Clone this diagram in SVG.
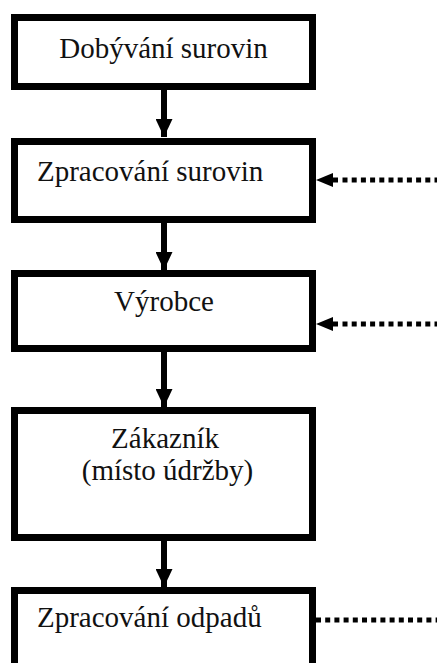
<svg xmlns="http://www.w3.org/2000/svg" width="437" height="663" viewBox="0 0 437 663">
<defs>
<style>
.box{fill:#fff;stroke:#000;stroke-width:7}
.t{font-family:"Liberation Serif","Times New Roman",serif;font-size:29px;fill:#111}
.c{text-anchor:middle}
.ln{stroke:#000;stroke-width:6;fill:none}
.dot{stroke:#000;stroke-width:5;stroke-dasharray:5 4.2;fill:none}
</style>
<marker id="ah" viewBox="0 0 18 17" refX="18" refY="8.5" markerWidth="18" markerHeight="17" markerUnits="userSpaceOnUse" orient="auto">
<path d="M0,0 L18,8.5 L0,17 Z" fill="#000"/>
</marker>
</defs>
<rect width="437" height="663" fill="#fff"/>
<g id="connectors">
<line class="ln" x1="164" y1="90" x2="164" y2="137" marker-end="url(#ah)"/>
<line class="ln" x1="164" y1="223" x2="164" y2="270" marker-end="url(#ah)"/>
<line class="ln" x1="164" y1="352" x2="164" y2="407" marker-end="url(#ah)"/>
<line class="ln" x1="164" y1="541" x2="164" y2="587" marker-end="url(#ah)"/>
<path d="M316,180 L333,173 L333,187 Z" fill="#000"/>
<line x1="332" y1="180" x2="338" y2="180" stroke="#000" stroke-width="5"/>
<line class="dot" x1="342.5" y1="180" x2="437" y2="180"/>
<path d="M316,324 L333,317 L333,331 Z" fill="#000"/>
<line x1="332" y1="324" x2="338" y2="324" stroke="#000" stroke-width="5"/>
<line class="dot" x1="342.5" y1="324" x2="437" y2="324"/>
<line class="dot" x1="316" y1="620" x2="437" y2="620"/>
</g>
<g id="n1">
<rect class="box" x="14.5" y="17.5" width="298" height="69"/>
<text class="t c" x="163.5" y="58">Dobývání surovin</text>
</g>
<g id="n2">
<rect class="box" x="14.5" y="141.5" width="298" height="78"/>
<text class="t" x="37" y="181">Zpracování surovin</text>
</g>
<g id="n3">
<rect class="box" x="14.5" y="273.5" width="298" height="75"/>
<text class="t c" x="164" y="311">Výrobce</text>
</g>
<g id="n4">
<rect class="box" x="14.5" y="410.5" width="298" height="127"/>
<text class="t c" x="165" y="448">Zákazník</text>
<text class="t c" x="167.5" y="480">(místo údržby)</text>
</g>
<g id="n5">
<rect class="box" x="14.5" y="590.5" width="298" height="100"/>
<text class="t" x="37" y="627">Zpracování odpadů</text>
</g>
</svg>
